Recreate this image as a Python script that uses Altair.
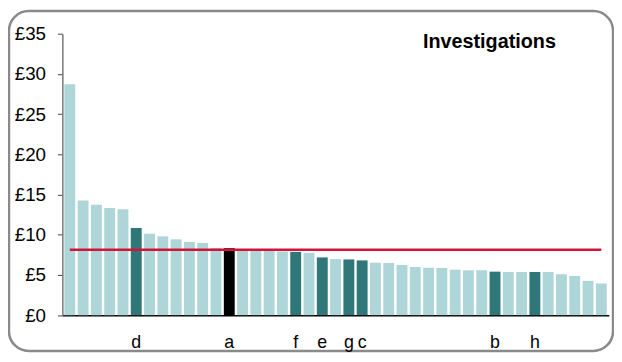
import altair as alt
import pandas as pd

# ---- data ----
values = [28.7, 14.27, 13.74, 13.33, 13.16, 10.83, 10.13, 9.8, 9.43, 9.1,
          8.98, 8.36, 8.33, 8.12, 8.05, 8.0, 7.92, 7.87, 7.75, 7.18,
          6.97, 6.93, 6.81, 6.52, 6.48, 6.24, 5.99, 5.9, 5.87, 5.66,
          5.58, 5.58, 5.41, 5.37, 5.37, 5.37, 5.37, 5.09, 4.88, 4.27, 3.94]
labels = ["", "", "", "", "", "d", "", "", "", "",
          "", "", "a", "", "", "", "", "f", "", "e",
          "", "g", "c", "", "", "", "", "", "", "",
          "", "", "b", "", "", "h", "", "", "", "", ""]
groups = ["other"] * 41
for i, l in enumerate(labels):
    if l:
        groups[i] = "peer"
groups[12] = "focus"
average = 8.12
title_text = "Investigations"
y_ticks = [0, 5, 10, 15, 20, 25, 30, 35]

df = pd.DataFrame({"idx": list(range(len(values))), "value": values,
                   "label": labels, "group": groups})
avg_df = pd.DataFrame({"idx": list(range(len(values))), "avg": [average] * len(values)})

W, H = 611, 344
X0, X1 = 54, 606.7
Y0, Y35 = 307.7, 23

label_js = "[" + ",".join("'" + l + "'" for l in labels) + "]"

x_enc = alt.X("idx:O", sort=None,
              scale=alt.Scale(range=[X0, X1], paddingInner=0.18, paddingOuter=0.15),
              axis=alt.Axis(title=None, ticks=False, labelAngle=0,
                            labelExpr=label_js + "[datum.value]",
                            labelFont="Liberation Sans", labelFontSize=18,
                            labelColor="black", labelPadding=19,
                            domainColor="black", domainWidth=1.5,
                            offset=Y0 - H, grid=False))
y_scale = alt.Scale(domain=[0, 35], range=[Y0, Y35], nice=False)

bars = alt.Chart(df).mark_bar().encode(
    x=x_enc,
    y=alt.Y("value:Q", scale=y_scale,
            axis=alt.Axis(title=None, values=y_ticks, labelExpr="'£' + datum.value",
                          labelFont="Liberation Sans", labelFontSize=19,
                          labelColor="black", labelPadding=12, tickSize=5,
                          tickColor="#444", domainColor="#777", domainWidth=1.5,
                          offset=-X0, grid=False)),
    color=alt.Color("group:N", legend=None,
                    scale=alt.Scale(domain=["other", "peer", "focus"],
                                    range=["#AED6D9", "#2F7778", "#000000"])),
)

line = alt.Chart(avg_df).mark_line(color="#D2143A", strokeWidth=2.5).encode(
    x=alt.X("idx:O", sort=None),
    y=alt.Y("avg:Q"),
)

title = alt.Chart(pd.DataFrame({"t": [title_text]})).mark_text(
    font="Liberation Sans", fontSize=20, fontWeight="bold", color="black",
    align="center", baseline="alphabetic"
).encode(text="t:N", x=alt.value(486), y=alt.value(37))

chart = alt.layer(bars, line, title).properties(
    width=W, height=H,
    autosize=alt.AutoSizeParams(type="none"),
    padding=1,
).configure_view(
    stroke="#8a8a8a", strokeWidth=2.5, cornerRadius=20, fill="white"
)

chart.save("out.html", embed_options={"renderer": "svg", "actions": False})
